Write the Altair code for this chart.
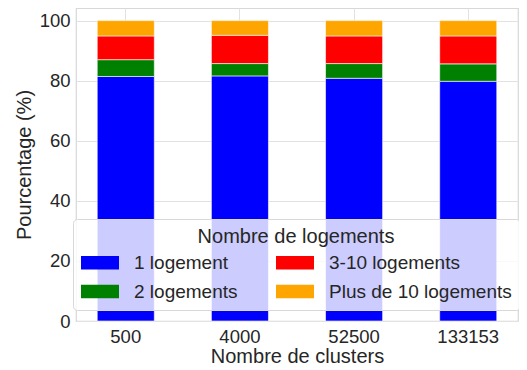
import altair as alt
import pandas as pd

clusters = ["500", "4000", "52500", "133153"]
categories = ["1 logement", "2 logements", "3-10 logements", "Plus de 10 logements"]
colors = ["#0000ff", "#008000", "#ff0000", "#ffa500"]
one_logement = [81.4, 81.6, 80.8, 79.8]
two_logements = [5.6, 4.1, 4.9, 5.8]
three_ten_logements = [7.9, 9.4, 9.2, 9.3]
plus_ten_logements = [5.1, 4.9, 5.1, 5.1]

series = [one_logement, two_logements, three_ten_logements, plus_ten_logements]
rows = []
for k, (cat, vals) in enumerate(zip(categories, series)):
    for c, v in zip(clusters, vals):
        rows.append({"cluster": c, "type": cat, "k": k, "pct": v})
df = pd.DataFrame(rows)

FONT = "Liberation Sans"
TXT = "#262626"

chart = alt.Chart(df).mark_bar(stroke="white", strokeWidth=0.6).encode(
    x=alt.X("cluster:N", sort=clusters,
            scale=alt.Scale(paddingInner=0.5, paddingOuter=0.186),
            axis=alt.Axis(title="Nombre de clusters", labelAngle=0, grid=True,
                          bandPosition=0.5, ticks=False, domain=False,
                          labelPadding=6, titlePadding=1)),
    y=alt.Y("pct:Q", stack="zero",
            scale=alt.Scale(domain=[0, 104.2], nice=False),
            axis=alt.Axis(title="Pourcentage (%)", values=[0, 20, 40, 60, 80, 100],
                          ticks=False, domain=False, labelPadding=6, titlePadding=5)),
    color=alt.Color("type:N", scale=alt.Scale(domain=categories, range=colors),
                    legend=alt.Legend(
                        title="Nombre de logements",
                        orient="none", legendX=-3, legendY=211, columns=2,
                        symbolType="M-1,-0.7H3V0.7H-1Z", symbolSize=361,
                        symbolStrokeWidth=0, symbolOpacity=1,
                        labelOffset=34, columnPadding=38, rowPadding=9,
                        padding=8, fillColor="rgba(255,255,255,0.8)",
                        strokeColor="#d8d8d8", cornerRadius=4,
                        titleAnchor="middle", titlePadding=6,
                        titleFontSize=20, labelFontSize=19,
                        titleFontWeight="normal", titleColor=TXT, labelColor=TXT,
                        titleFont=FONT, labelFont=FONT, labelLimit=400,
                        titleLimit=440)),
    order=alt.Order("k:Q", sort="ascending"),
).properties(
    width=442, height=313,
    autosize=alt.AutoSizeParams(type="none"),
    padding={"left": 68, "top": 0, "right": 1, "bottom": 45},
).configure_view(
    stroke="#d8d8d8", strokeWidth=1.2
).configure_axis(
    labelFont=FONT, titleFont=FONT, labelFontSize=18.5, titleFontSize=20,
    titleFontWeight="normal", labelColor=TXT, titleColor=TXT,
    gridColor="#e2e2e2", gridWidth=1
)

chart.save("out.html", embed_options={"renderer": "svg", "actions": False})
